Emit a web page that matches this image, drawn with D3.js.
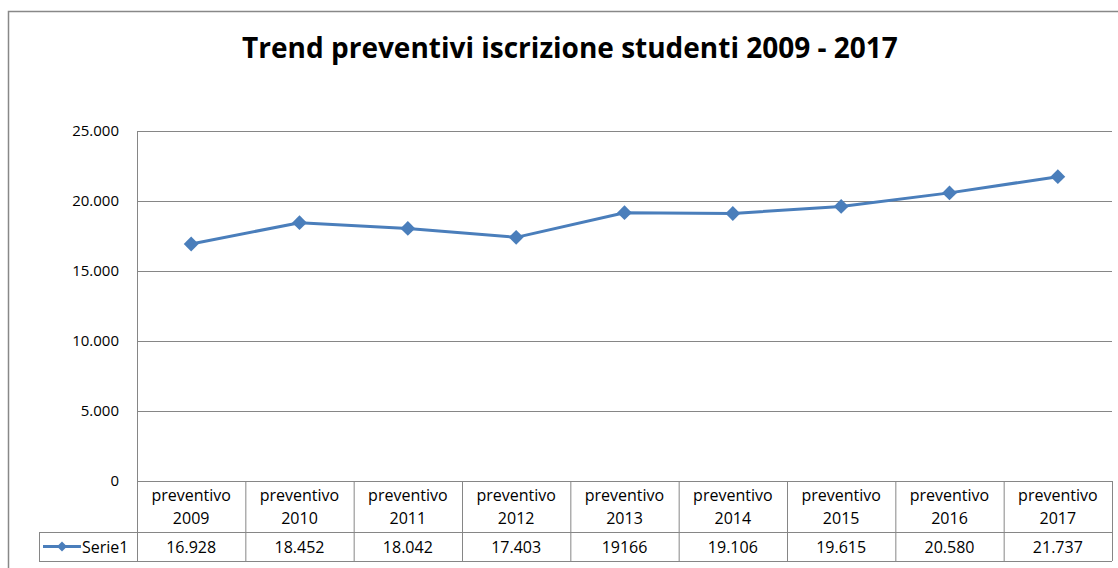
<!DOCTYPE html>
<html><head><meta charset="utf-8">
<script src="https://cdn.jsdelivr.net/npm/d3@7"></script>
<style>body{margin:0;background:#fff}svg text{font-family:"Open Sans","Noto Sans",sans-serif}</style>
</head><body><svg id="c" width="1118" height="568"></svg>
<script>
const categories = ["preventivo 2009","preventivo 2010","preventivo 2011","preventivo 2012","preventivo 2013","preventivo 2014","preventivo 2015","preventivo 2016","preventivo 2017"];
const values = [16928,18452,18042,17403,19166,19106,19615,20580,21737];
const tableLabels = ["16.928","18.452","18.042","17.403","19166","19.106","19.615","20.580","21.737"];
const yTicks = [0,5000,10000,15000,20000,25000];
const seriesName = "Serie1";
const title = "Trend preventivi iscrizione studenti 2009 - 2017";

const svg = d3.select("#c");
const L = 137, R = 1112, T = 131, B = 481;
const color = "#4a7ebb", grid = "#868686";

svg.append("rect").attr("x",8.5).attr("y",11.5).attr("width",1120).attr("height",570)
  .attr("fill","none").attr("stroke","#888").attr("stroke-width",1.5);

svg.append("text").attr("x",570).attr("y",58).attr("text-anchor","middle")
  .attr("font-size",28).attr("font-weight","bold").attr("fill","#000").text(title);

const x = d3.scaleBand().domain(categories).range([L,R]).padding(0);
const y = d3.scaleLinear().domain([0,25000]).range([B,T]);

const fmt = v => v===0 ? "0" : d3.format(",")(v).replace(/,/g,".");
const yAxis = d3.axisLeft(y).tickValues(yTicks).tickSize(-(R-L)).tickFormat(fmt).tickPadding(18);
const gy = svg.append("g").attr("transform",`translate(${L},0)`).call(yAxis);
gy.select(".domain").remove();
gy.selectAll(".tick line").attr("stroke",grid).attr("stroke-width",1);
gy.selectAll(".tick text").attr("font-size",15).attr("fill","#000")
  .attr("font-family","'Open Sans','Noto Sans',sans-serif");

// plot area left border
svg.append("line").attr("x1",L+0.5).attr("x2",L+0.5).attr("y1",T).attr("y2",B).attr("stroke",grid);

// data table
const rowH1 = 51, rowH2 = 29;
const tg = svg.append("g");
x.domain().forEach((c,i)=>{
  tg.append("line").attr("x1",x(c)+0.5).attr("x2",x(c)+0.5).attr("y1",B).attr("y2",B+rowH1+rowH2).attr("stroke",grid);
});
tg.append("line").attr("x1",R+0.5).attr("x2",R+0.5).attr("y1",B).attr("y2",B+rowH1+rowH2).attr("stroke",grid);
tg.append("line").attr("x1",L).attr("x2",R).attr("y1",B+0.5).attr("y2",B+0.5).attr("stroke",grid);
tg.append("line").attr("x1",39).attr("x2",R).attr("y1",B+rowH1+0.5).attr("y2",B+rowH1+0.5).attr("stroke",grid);
tg.append("line").attr("x1",39).attr("x2",R).attr("y1",B+rowH1+rowH2+0.5).attr("y2",B+rowH1+rowH2+0.5).attr("stroke",grid);
tg.append("line").attr("x1",39.5).attr("x2",39.5).attr("y1",B+rowH1).attr("y2",B+rowH1+rowH2).attr("stroke",grid);

categories.forEach((c,i)=>{
  const cx = x(c)+x.bandwidth()/2;
  const parts = c.split(" ");
  tg.append("text").attr("x",cx).attr("y",B+20).attr("text-anchor","middle").attr("font-size",16).attr("fill","#000").text(parts[0]);
  tg.append("text").attr("x",cx).attr("y",B+43).attr("text-anchor","middle").attr("font-size",16).attr("fill","#000").text(parts[1]);
  tg.append("text").attr("x",cx).attr("y",B+rowH1+21).attr("text-anchor","middle").attr("font-size",16).attr("fill","#000").text(tableLabels[i]);
});
// legend key
const ly = B+rowH1+rowH2/2;
tg.append("line").attr("x1",43).attr("x2",81).attr("y1",ly).attr("y2",ly).attr("stroke",color).attr("stroke-width",3);
tg.append("path").attr("d",d3.symbol(d3.symbolSquare,50)()).attr("transform",`translate(62,${ly}) rotate(45)`).attr("fill",color);
tg.append("text").attr("x",82).attr("y",B+rowH1+21).attr("font-size",16).attr("fill","#000").text(seriesName);

// line
const line = d3.line().x((d,i)=>x(categories[i])+x.bandwidth()/2).y(d=>y(d));
svg.append("path").datum(values).attr("d",line).attr("fill","none").attr("stroke",color).attr("stroke-width",3).attr("stroke-linejoin","round");
svg.selectAll(".m").data(values).enter().append("path")
  .attr("d",d3.symbol(d3.symbolSquare,110)())
  .attr("transform",(d,i)=>`translate(${x(categories[i])+x.bandwidth()/2},${y(d)}) rotate(45)`)
  .attr("fill",color);
</script></body></html>
